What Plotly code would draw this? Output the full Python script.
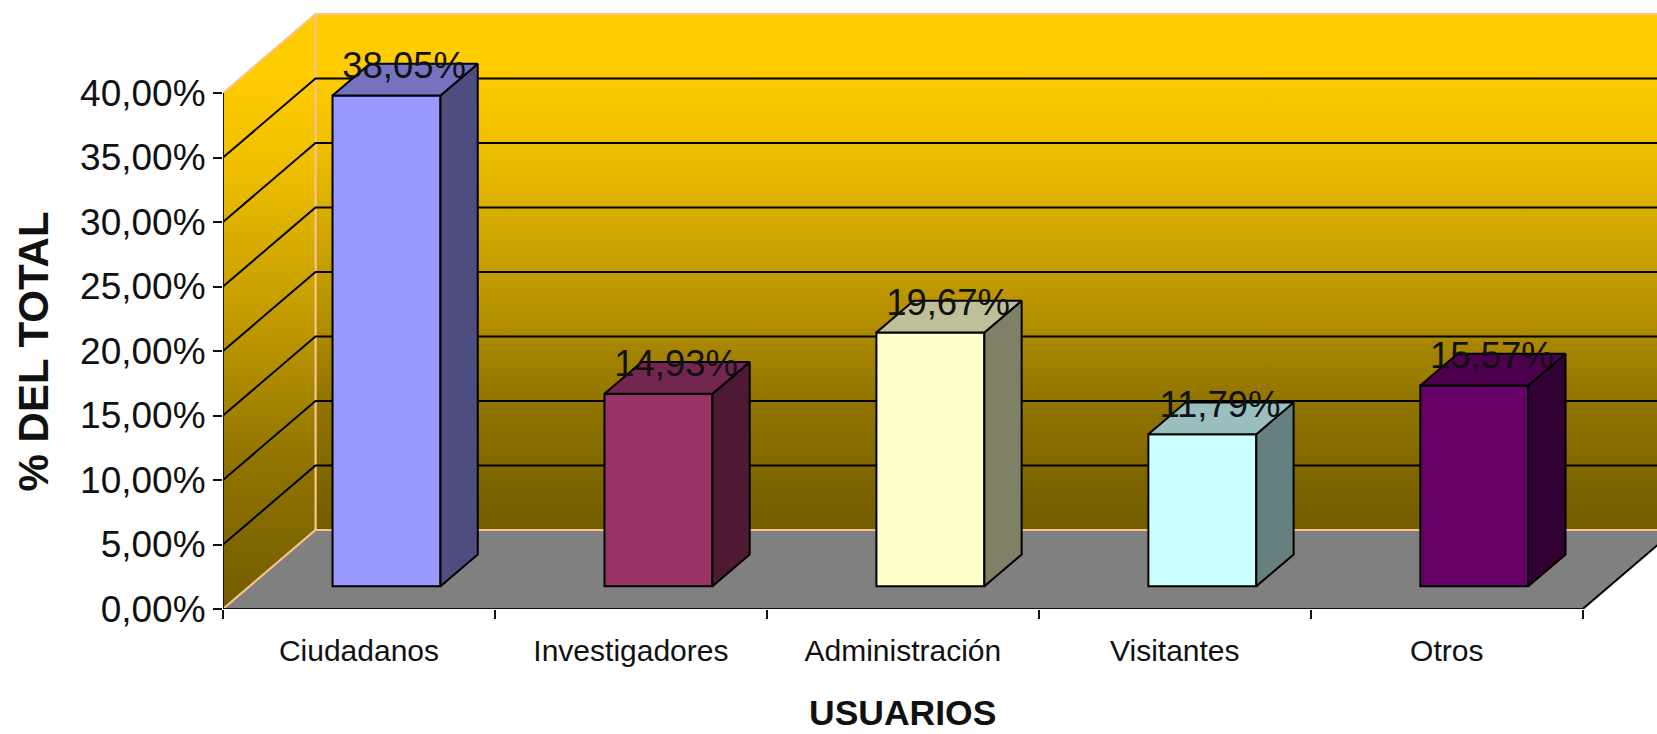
import plotly.graph_objects as go

categories = ["Ciudadanos", "Investigadores", "Administración", "Visitantes", "Otros"]
values = [38.05, 14.93, 19.67, 11.79, 15.57]
value_labels = ["38,05%", "14,93%", "19,67%", "11,79%", "15,57%"]
y_ticks = [0, 5, 10, 15, 20, 25, 30, 35, 40]
y_tick_labels = ["0,00%", "5,00%", "10,00%", "15,00%", "20,00%", "25,00%", "30,00%", "35,00%", "40,00%"]
front_colors = ["#9999FF", "#993366", "#FFFFCC", "#CCFFFF", "#660066"]
side_colors = ["#4D4D80", "#4D1933", "#808066", "#668080", "#330033"]
top_colors = ["#7373BF", "#732650", "#BFBF99", "#99BFBF", "#4D004D"]

FONT = "Liberation Sans"
W, H = 1657, 734
LEFT, BOTTOM = 222.7, 125
PX_X, PX_Y = 272.0, 12.9        # pixels per category / per percent
X_MAX = (W - LEFT) / PX_X
Y_MAX = (H - BOTTOM) / PX_Y
DX, DY = 92.5 / PX_X, 79.0 / PX_Y   # full oblique depth offset, data units
D_FRONT, D_BACK = 0.287, 0.69       # depth of bar front and back faces
BAR_W = 0.397
BAR_NUDGE = 1.0 / PX_X
LABEL_DROP = 5.0 / PX_Y
PEACH = "#F7C48C"
WALL = [[0, "#735C00"], [0.25, "#917400"], [0.45, "#BB9500"], [0.62, "#D8AD00"],
        [0.75, "#F0C000"], [0.9, "#FFCC00"], [1, "#FFCC00"]]
n = len(categories)
top = y_ticks[-1]

fig = go.Figure()


def poly(xs, ys, fill, axes="xy", line="black", lw=2):
    fig.add_trace(go.Scatter(
        x=xs + xs[:1], y=ys + ys[:1], mode="lines", fill="toself", fillcolor=fill,
        line=dict(color=line, width=lw), hoverinfo="skip", showlegend=False,
        xaxis="x" if axes == "xy" else "x2", yaxis="y" if axes == "xy" else "y2"))


def wall(xs, ys):
    fig.add_trace(go.Scatter(
        x=xs + xs[:1], y=ys + ys[:1], mode="lines", fill="toself",
        fillgradient=dict(type="vertical", colorscale=WALL),
        line=dict(color=PEACH, width=2), hoverinfo="skip", showlegend=False))


def seg(xs, ys, color="black", width=2, clip=True):
    fig.add_trace(go.Scatter(
        x=xs, y=ys, mode="lines", line=dict(color=color, width=width),
        hoverinfo="skip", showlegend=False, cliponaxis=clip))


# walls and floor
wall([DX, n + DX + 1, n + DX + 1, DX], [DY, DY, top + DY, top + DY])
wall([0, DX, DX, 0], [0, DY, top + DY, top])
poly([0, n, n + DX, DX], [0, 0, DY, DY], "#808080", line="rgba(0,0,0,0)", lw=0)
seg([0, DX], [0, DY], PEACH)
seg([DX, n + DX + 1], [DY, DY], PEACH)
seg([n, n + DX], [0, DY], "black", 2)

# gridlines on both walls
for t in y_ticks[1:-1]:
    seg([0, DX, n + DX + 1], [t, t + DY, t + DY])

# axis lines
seg([0, 0], [0, top], "#111111", 2, clip=False)
seg([0, n], [0, 0], "#111111", 2, clip=False)

# bars: front faces through the bar trace, on an overlaying pair of axes
fig.add_trace(go.Bar(
    x=[i + 0.5 + D_FRONT * DX + BAR_NUDGE for i in range(n)], y=values,
    base=[D_FRONT * DY] * n, width=BAR_W,
    marker=dict(color=front_colors, line=dict(color="black", width=2)),
    xaxis="x2", yaxis="y2", showlegend=False, hoverinfo="skip"))

depth = D_BACK - D_FRONT
for i, v in enumerate(values):
    x0 = i + 0.5 + D_FRONT * DX + BAR_NUDGE - BAR_W / 2
    x1 = x0 + BAR_W
    y0 = D_FRONT * DY
    y1 = y0 + v
    ox, oy = depth * DX, depth * DY
    poly([x1, x1 + ox, x1 + ox, x1], [y0, y0 + oy, y1 + oy, y1], side_colors[i], axes="x2y2")
    poly([x0, x1, x1 + ox, x0 + ox], [y1, y1, y1 + oy, y1 + oy], top_colors[i], axes="x2y2")

# value labels
fig.add_trace(go.Scatter(
    x=[i + 0.5 + (D_FRONT + D_BACK) / 2 * DX for i in range(n)],
    y=[v + D_BACK * DY - LABEL_DROP for v in values],
    mode="text", text=value_labels, textposition="middle center",
    textfont=dict(family=FONT, size=36.5, color="#111111"),
    xaxis="x2", yaxis="y2", showlegend=False, hoverinfo="skip", cliponaxis=False))

fig.update_layout(
    width=W, height=H, autosize=False,
    margin=dict(l=LEFT, r=0, t=0, b=BOTTOM, pad=0),
    paper_bgcolor="white", plot_bgcolor="white",
    font=dict(family=FONT, color="black"),
    showlegend=False, barmode="overlay",
    xaxis=dict(
        range=[0, X_MAX], tickmode="array",
        tickvals=[i + 0.5 for i in range(n)], ticktext=categories,
        ticks="", showgrid=False, zeroline=False, showline=False, fixedrange=True,
        tickfont=dict(family=FONT, size=30, color="#111111"), ticklabelstandoff=21,
        minor=dict(tick0=0, dtick=1, ticks="outside", ticklen=9, tickcolor="#111111",
                   tickwidth=2, showgrid=False)),
    yaxis=dict(
        range=[0, Y_MAX], tickmode="array", tickvals=y_ticks, ticktext=y_tick_labels,
        ticks="outside", ticklen=9, tickwidth=2, tickcolor="#111111",
        showgrid=False, zeroline=False, showline=False, fixedrange=True,
        tickfont=dict(family=FONT, size=37, color="#111111")),
    xaxis2=dict(range=[0, X_MAX], overlaying="x", visible=False, fixedrange=True),
    yaxis2=dict(range=[0, Y_MAX], overlaying="y", visible=False, fixedrange=True),
    annotations=[
        dict(text="<b>USUARIOS</b>", xref="paper", yref="paper",
             x=2.5 / X_MAX, y=-8.05 / Y_MAX, showarrow=False,
             xanchor="center", yanchor="middle", font=dict(family=FONT, size=35.5, color="#111111")),
        dict(text="<b>% DEL TOTAL</b>", xref="paper", yref="paper",
             x=-0.697 / X_MAX, y=20 / Y_MAX, showarrow=False,
             textangle=-90, xanchor="center", yanchor="middle",
             font=dict(family=FONT, size=42, color="#111111")),
    ],
)

fig.write_html("out.html", config={"displayModeBar": False},
               post_script="document.body.style.margin='0';document.body.style.overflow='hidden';")
